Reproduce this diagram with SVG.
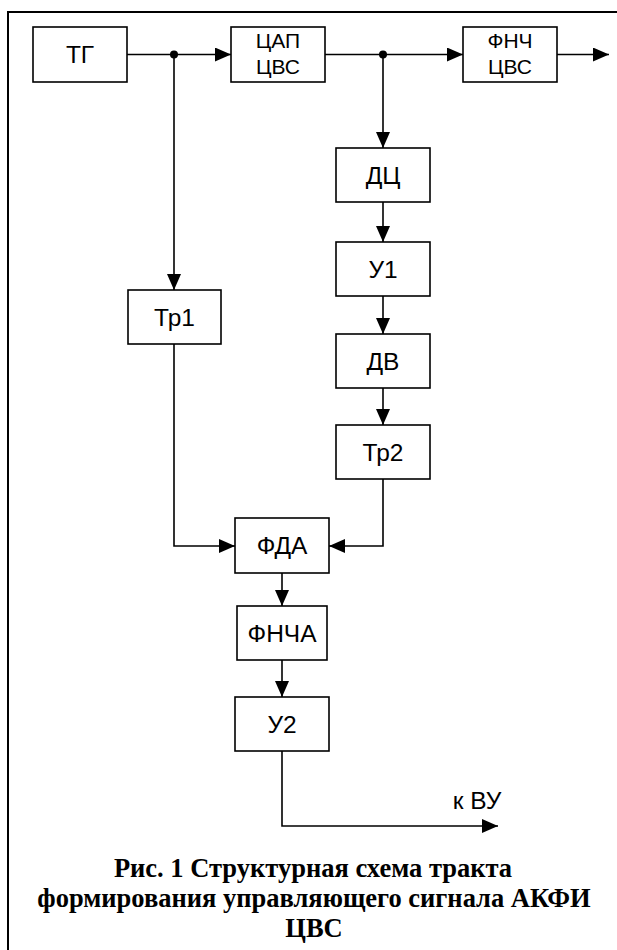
<svg xmlns="http://www.w3.org/2000/svg" width="617" height="950" viewBox="0 0 617 950">
<style>
.box{fill:#fff;stroke:#000;stroke-width:1.6}
.lbl{font-family:"Liberation Sans",Arial,sans-serif;font-size:24.5px;text-anchor:middle;fill:#000}
.lbl2{font-family:"Liberation Sans",Arial,sans-serif;font-size:21px;text-anchor:middle;fill:#000}
.ln{fill:none;stroke:#000;stroke-width:1.6}
.cap{font-family:"Liberation Serif","Times New Roman",serif;font-size:26.5px;font-weight:bold;text-anchor:middle;fill:#000}
</style>
<defs>
<marker id="arr" markerUnits="userSpaceOnUse" markerWidth="17" markerHeight="15" refX="16" refY="7" orient="auto">
<path d="M0,0 L16,7 L0,14 z" fill="#000"/>
</marker>
</defs>
<rect width="617" height="950" fill="#fff"/>
<path d="M8,950 V12 H617" fill="none" stroke="#000" stroke-width="2"/>
<g id="connectors">
<path class="ln" d="M127,54.5 H231" marker-end="url(#arr)"/>
<path class="ln" d="M325,54.5 H463" marker-end="url(#arr)"/>
<path class="ln" d="M557,54.5 H609" marker-end="url(#arr)"/>
<path class="ln" d="M174,54.5 V290" marker-end="url(#arr)"/>
<path class="ln" d="M383,54.5 V148" marker-end="url(#arr)"/>
<path class="ln" d="M383,202 V242" marker-end="url(#arr)"/>
<path class="ln" d="M383,296 V334" marker-end="url(#arr)"/>
<path class="ln" d="M383,388 V425" marker-end="url(#arr)"/>
<path class="ln" d="M174,344 V546 H235" marker-end="url(#arr)"/>
<path class="ln" d="M383,479 V546 H329" marker-end="url(#arr)"/>
<path class="ln" d="M282,573 V606" marker-end="url(#arr)"/>
<path class="ln" d="M282,660 V697" marker-end="url(#arr)"/>
<path class="ln" d="M282,751 V826 H498" marker-end="url(#arr)"/>
<circle cx="174" cy="54.5" r="4"/>
<circle cx="383" cy="54.5" r="4"/>
</g>
<g id="tg"><rect class="box" x="33" y="27" width="94" height="55"/><text class="lbl" x="80" y="63">ТГ</text></g>
<g id="cap-cvs"><rect class="box" x="231" y="27" width="94" height="55"/><text class="lbl2" x="278" y="48">ЦАП</text><text class="lbl2" x="278" y="74">ЦВС</text></g>
<g id="fnch-cvs"><rect class="box" x="463" y="27" width="94" height="55"/><text class="lbl2" x="510" y="48">ФНЧ</text><text class="lbl2" x="510" y="74">ЦВС</text></g>
<g id="dc"><rect class="box" x="336" y="148" width="94" height="54"/><text class="lbl" x="383" y="184">ДЦ</text></g>
<g id="u1"><rect class="box" x="336" y="242" width="94" height="54"/><text class="lbl" x="383" y="278">У1</text></g>
<g id="dv"><rect class="box" x="336" y="334" width="94" height="54"/><text class="lbl" x="383" y="370">ДВ</text></g>
<g id="tr2"><rect class="box" x="336" y="425" width="94" height="54"/><text class="lbl" x="383" y="461">Тр2</text></g>
<g id="tr1"><rect class="box" x="128" y="290" width="93" height="54"/><text class="lbl" x="174.5" y="326">Тр1</text></g>
<g id="fda"><rect class="box" x="235" y="518" width="94" height="55"/><text class="lbl" x="282" y="554">ФДА</text></g>
<g id="fncha"><rect class="box" x="237" y="606" width="90" height="54"/><text class="lbl" x="282" y="642">ФНЧА</text></g>
<g id="u2"><rect class="box" x="235" y="697" width="94" height="54"/><text class="lbl" x="282" y="733">У2</text></g>
<text class="lbl" x="477" y="809">к ВУ</text>
<text class="cap" x="313" y="877">Рис. 1 Структурная схема тракта</text>
<text class="cap" x="314" y="907">формирования управляющего сигнала АКФИ</text>
<text class="cap" x="314" y="937">ЦВС</text>
</svg>
